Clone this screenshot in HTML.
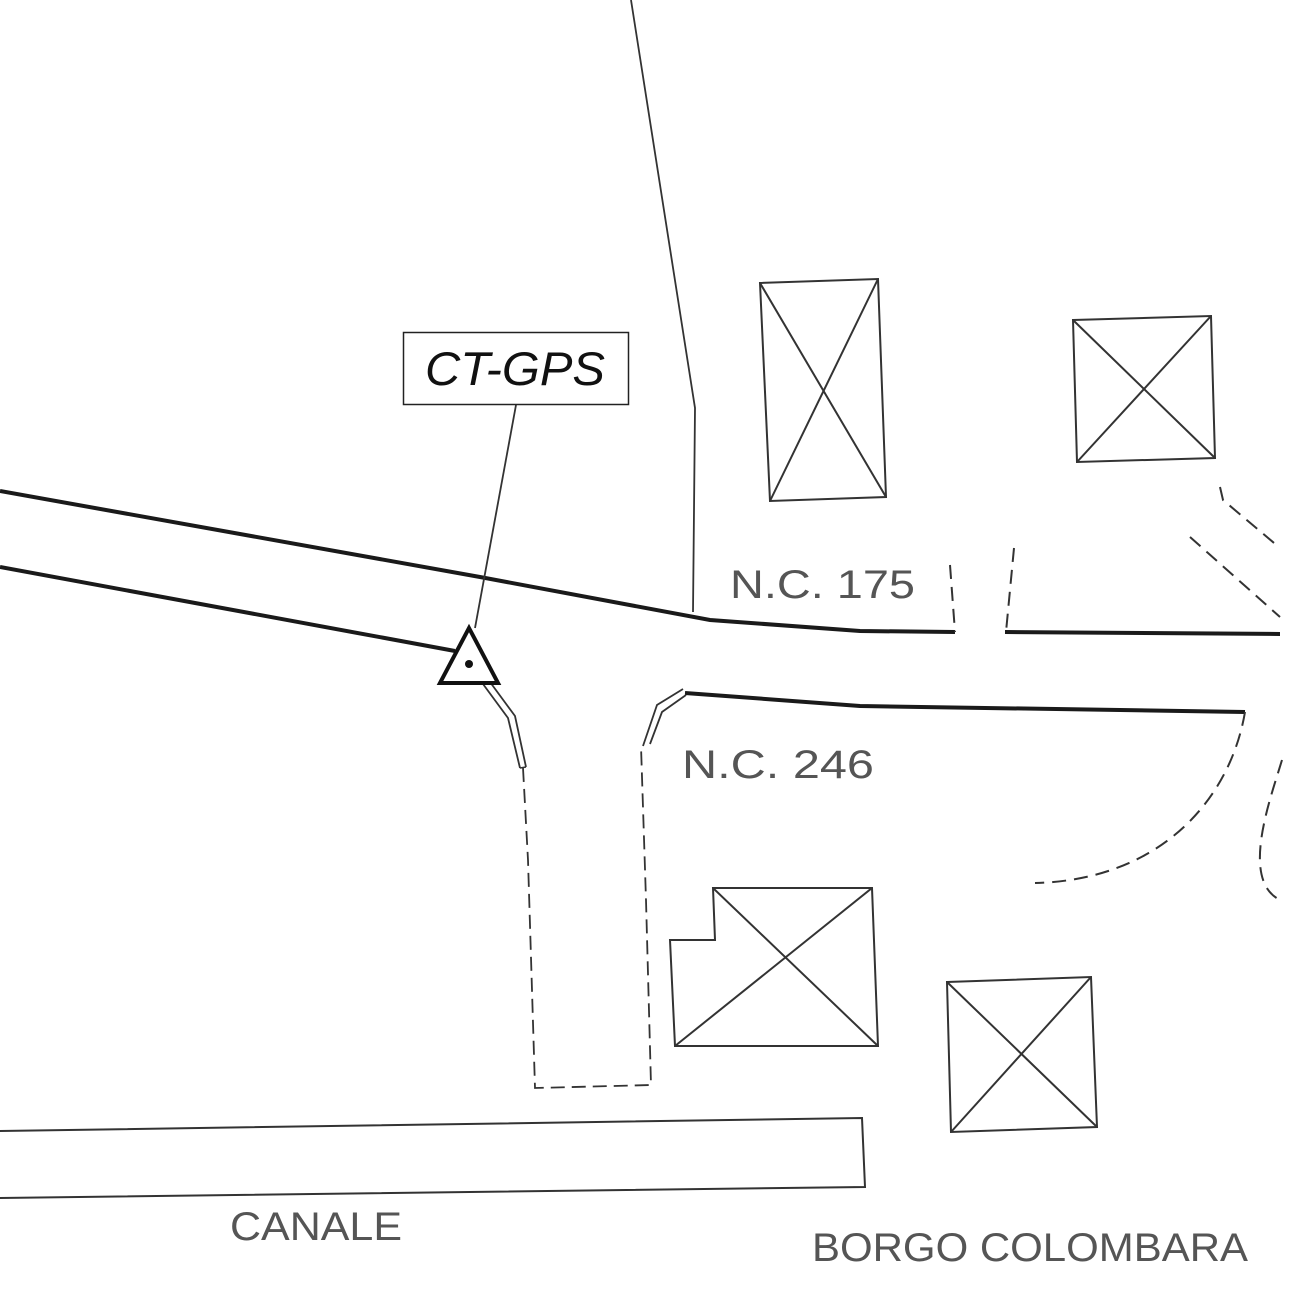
<!DOCTYPE html>
<html><head><style>html,body{margin:0;padding:0;background:#fff}svg{display:block}</style></head>
<body>
<svg width="1299" height="1299" viewBox="0 0 1299 1299" xmlns="http://www.w3.org/2000/svg" fill="none" stroke="#333">
<polyline points="631,0 695,408 693,612" stroke-width="1.8"/>
<polyline points="0,491 480,577 710,620 860,631 955,632" stroke="#1a1a1a" stroke-width="4"/>
<polyline points="1005,632 1280,634" stroke="#1a1a1a" stroke-width="4"/>
<polyline points="0,567 455,651" stroke="#1a1a1a" stroke-width="4"/>
<polyline points="685,693 860,706 1245,712" stroke="#1a1a1a" stroke-width="4"/>
<polyline points="950,565 955,632" stroke-width="2" stroke-dasharray="14,8"/>
<polyline points="1014,548 1006,632" stroke-width="2" stroke-dasharray="14,8"/>
<polyline points="1220,487 1223,500 1280,548" stroke-width="2" stroke-dasharray="14,8"/>
<polyline points="1190,537 1280,617" stroke-width="2" stroke-dasharray="14,8"/>
<path d="M1245,712 C1230,800 1160,880 1035,883" stroke-width="2" stroke-dasharray="14,8"/>
<path d="M1282,760 C1270,800 1240,880 1280,900" stroke-width="2" stroke-dasharray="14,8"/>
<polyline points="483,684 508,718 520,768" stroke-width="1.8"/>
<polyline points="490,682 515,716 526,767" stroke-width="1.8"/>
<line x1="520" y1="768" x2="526" y2="767" stroke-width="1.5"/>
<polyline points="683,689 657,705 643,746" stroke-width="1.8"/>
<polyline points="686,695 662,712 650,744" stroke-width="1.8"/>
<polyline points="523,768 528,860 535,1088 651,1085 646,900 641,746" stroke-width="1.8" stroke-dasharray="14,7"/>
<g stroke-width="2">
<polygon points="760,283 878,279 886,497 770,501"/>
<line x1="760" y1="283" x2="886" y2="497"/><line x1="878" y1="279" x2="770" y2="501"/>
<polygon points="1073,320 1211,316 1215,458 1077,462"/>
<line x1="1073" y1="320" x2="1215" y2="458"/><line x1="1211" y1="316" x2="1077" y2="462"/>
<polygon points="713,888 872,888 878,1046 675,1046 670,940 715,940"/>
<line x1="713" y1="888" x2="878" y2="1046"/><line x1="872" y1="888" x2="675" y2="1046"/>
<polygon points="947,982 1091,977 1097,1127 951,1132"/>
<line x1="947" y1="982" x2="1097" y2="1127"/><line x1="1091" y1="977" x2="951" y2="1132"/>
</g>
<polyline points="0,1131 862,1118 865,1187 0,1198" stroke-width="2"/>
<line x1="516" y1="405" x2="475" y2="628" stroke-width="1.8"/>
<rect x="403.5" y="332.5" width="225" height="72" fill="#fff" stroke="#222" stroke-width="1.5"/>
<text x="515" y="385" text-anchor="middle" font-family="Liberation Sans, sans-serif" font-style="italic" font-size="47" fill="#111" stroke="none" textLength="180" lengthAdjust="spacingAndGlyphs">CT-GPS</text>
<polygon points="469,628 498,683 440,683" fill="#fff" stroke="#111" stroke-width="4"/>
<circle cx="469" cy="664" r="4" fill="#111" stroke="none"/>
<g font-family="Liberation Sans, sans-serif" fill="#555" stroke="none" font-size="40">
<text x="730" y="598" textLength="185" lengthAdjust="spacingAndGlyphs">N.C. 175</text>
<text x="682" y="778" textLength="192" lengthAdjust="spacingAndGlyphs">N.C. 246</text>
<text x="230" y="1240" textLength="172" lengthAdjust="spacingAndGlyphs">CANALE</text>
<text x="812" y="1261" textLength="436" lengthAdjust="spacingAndGlyphs">BORGO COLOMBARA</text>
</g>
</svg>
</body></html>
